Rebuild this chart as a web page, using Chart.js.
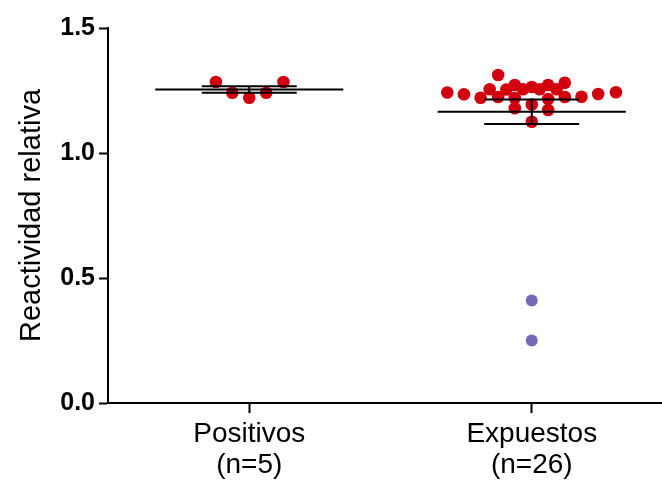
<!DOCTYPE html>
<html>
<head>
<meta charset="utf-8">
<script src="https://cdn.jsdelivr.net/npm/chart.js@4.4.1/dist/chart.umd.min.js"></script>
<style>
  html, body { margin: 0; padding: 0; background: #ffffff; }
  #wrap { width: 662px; height: 480px; }
</style>
</head>
<body>
<div id="wrap"><canvas id="myChart" width="662" height="480"></canvas></div>
<script>
var categories = ["Positivos", "Expuestos"];
var yTicks = [0, 0.5, 1.0, 1.5];

// Positivos (group 1)
var positivosValues = [1.284, 1.241, 1.221, 1.241, 1.284];
var positivosJitter = [-0.118, -0.06, 0, 0.06, 0.121];

// Expuestos (group 2), red points
var expuestosValues = [1.242, 1.235, 1.221, 1.255, 1.312, 1.224, 1.254, 1.272, 1.22, 1.179,
  1.255, 1.264, 1.194, 1.125, 1.255, 1.272, 1.216, 1.172, 1.255, 1.281, 1.224, 1.225, 1.236, 1.243];
var expuestosJitter = [-0.299, -0.24, -0.181, -0.149, -0.119, -0.119, -0.09, -0.06, -0.06, -0.06,
  -0.031, 0, 0, 0, 0.028, 0.058, 0.058, 0.058, 0.088, 0.117, 0.117, 0.176, 0.235, 0.298];

// Expuestos, low responders (purple)
var expuestosLowValues = [0.41, 0.25];
var expuestosLowJitter = [0, 0];

var FONT = "Arial, 'Liberation Sans', sans-serif";

function toPoints(pos, values, jitter) {
  return values.map(function (v, i) {
    return { x: pos + jitter[i], y: v };
  });
}

function meanSem(values) {
  var n = values.length;
  var m = values.reduce(function (a, b) { return a + b; }, 0) / n;
  var ss = values.reduce(function (a, b) { return a + (b - m) * (b - m); }, 0);
  var sd = Math.sqrt(ss / (n - 1));
  return { mean: m, sem: sd / Math.sqrt(n) };
}

function lineSet(points) {
  return {
    type: "scatter",
    data: points,
    showLine: true,
    borderColor: "#000000",
    borderWidth: 2,
    pointRadius: 0,
    order: 0,
  };
}

// mean line + SEM bars for a group
function summarySets(pos, values) {
  var s = meanSem(values);
  var hi = s.mean + s.sem, lo = s.mean - s.sem;
  return [
    lineSet([{ x: pos - 0.333, y: s.mean }, { x: pos + 0.333, y: s.mean }]),
    lineSet([{ x: pos - 0.168, y: hi }, { x: pos + 0.168, y: hi }]),
    lineSet([{ x: pos - 0.168, y: lo }, { x: pos + 0.168, y: lo }]),
    lineSet([{ x: pos, y: lo }, { x: pos, y: hi }]),
  ];
}

var expuestosAll = expuestosValues.concat(expuestosLowValues);
var counts = [positivosValues.length, expuestosAll.length];

var datasets = [
  {
    data: toPoints(1, positivosValues, positivosJitter),
    backgroundColor: "#d2000f",
    pointRadius: 6.3,
    pointBorderWidth: 0,
    order: 1,
  },
  {
    data: toPoints(2, expuestosValues, expuestosJitter),
    backgroundColor: "#d2000f",
    pointRadius: 6.3,
    pointBorderWidth: 0,
    order: 1,
  },
  {
    data: toPoints(2, expuestosLowValues, expuestosLowJitter),
    backgroundColor: "#7569b5",
    pointRadius: 6,
    pointBorderWidth: 0,
    order: 1,
  },
].concat(summarySets(1, positivosValues), summarySets(2, expuestosAll));

var ctx = document.getElementById("myChart").getContext("2d");
new Chart(ctx, {
  type: "scatter",
  data: { datasets: datasets },
  options: {
    responsive: false,
    animation: false,
    layout: { autoPadding: false, padding: { top: 28, right: 0, bottom: 0, left: 0 } },
    plugins: {
      legend: { display: false },
      tooltip: { enabled: false },
    },
    scales: {
      x: {
        type: "linear",
        min: 0.5,
        max: 2.461,
        afterBuildTicks: function (axis) {
          axis.ticks = categories.map(function (c, i) { return { value: i + 1 }; });
        },
        afterFit: function (axis) { axis.height = 77; },
        grid: {
          drawOnChartArea: false,
          drawTicks: true,
          tickLength: 10,
          tickWidth: 2,
          tickColor: "#000000",
        },
        border: { display: true, color: "#000000", width: 2 },
        ticks: {
          color: "#000000",
          padding: 6,
          maxRotation: 0,
          autoSkip: false,
          font: { family: FONT, size: 28, lineHeight: 1.1 },
          callback: function (value) {
            var i = Math.round(value) - 1;
            return [categories[i], "(n=" + counts[i] + ")"];
          },
        },
      },
      y: {
        min: 0,
        max: 1.5,
        afterBuildTicks: function (axis) {
          axis.ticks = yTicks.map(function (v) { return { value: v }; });
        },
        afterFit: function (axis) { axis.width = 108; },
        grid: {
          drawOnChartArea: false,
          drawTicks: true,
          tickLength: 9,
          tickWidth: 2,
          tickColor: "#000000",
        },
        border: { display: true, color: "#000000", width: 2 },
        ticks: {
          color: "#000000",
          padding: 4,
          font: { family: FONT, size: 25, weight: "bold" },
          callback: function (value) { return value.toFixed(1); },
        },
        title: {
          display: true,
          text: "Reactividad relativa",
          color: "#000000",
          font: { family: FONT, size: 29 },
          padding: { top: 15, bottom: 0 },
        },
      },
    },
  },
});
</script>
</body>
</html>
